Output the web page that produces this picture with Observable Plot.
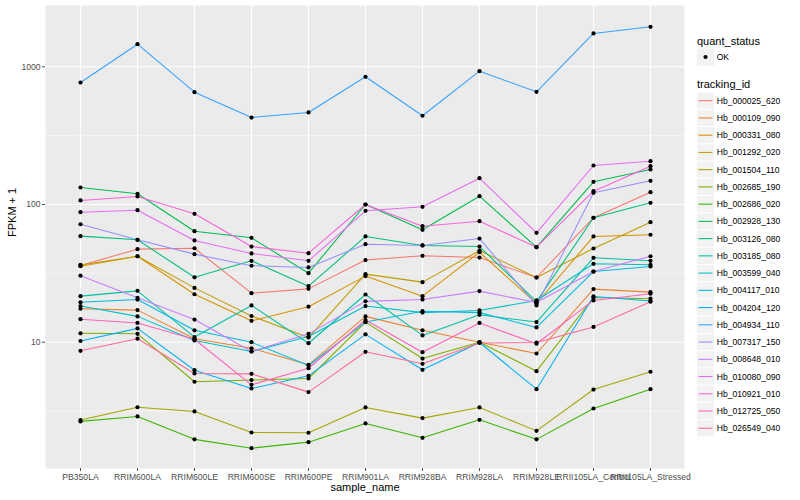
<!DOCTYPE html>
<html><head><meta charset="utf-8">
<script src="https://cdn.jsdelivr.net/npm/d3@7"></script>
<script src="https://cdn.jsdelivr.net/npm/@observablehq/plot@0.6"></script>
<style>
body{margin:0;background:#fff;font-family:"Liberation Sans",Arial,sans-serif;}
#wrap{position:relative;width:800px;height:500px;overflow:hidden;}
#chart{position:absolute;left:0;top:0;}
#legend{position:absolute;left:690px;top:0;}
</style></head><body>
<div id="wrap"><div id="chart"></div><svg id="legend" width="110" height="500"></svg></div>
<script>
const samples = ["PB350LA","RRIM600LA","RRIM600LE","RRIM600SE","RRIM600PE","RRIM901LA","RRIM928BA","RRIM928LA","RRIM928LE","RRII105LA_Control","RRII105LA_Stressed"];
const trackingIds = ["Hb_000025_620","Hb_000109_090","Hb_000331_080","Hb_001292_020","Hb_001504_110","Hb_002685_190","Hb_002686_020","Hb_002928_130","Hb_003126_080","Hb_003185_080","Hb_003599_040","Hb_004117_010","Hb_004204_120","Hb_004934_110","Hb_007317_150","Hb_008648_010","Hb_010080_090","Hb_010921_010","Hb_012725_050","Hb_026549_040"];
const quantStatus = ["OK"];
const yBreaks = [10, 100, 1000];

// FPKM + 1, one array per tracking_id, in sample order
const hb_000025_620 = [36.1, 47.4, 48.1, 22.7, 24.4, 39.5, 42.4, 41.2, 29.5, 80.1, 122.9];
const hb_000109_090 = [17.5, 17.1, 10.6, 9.04, 6.85, 15.4, 12.2, 10.0, 8.28, 24.3, 23.1];
const hb_000331_080 = [35.6, 42.1, 22.3, 14.3, 18.1, 30.2, 21.6, 45.0, 19.1, 58.6, 60.3];
const hb_001292_020 = [36.4, 42.1, 24.8, 15.5, 10.8, 31.2, 27.3, 46.3, 29.5, 47.9, 74.4];
const hb_001504_110 = [2.72, 3.37, 3.14, 2.21, 2.20, 3.36, 2.81, 3.36, 2.27, 4.53, 6.10];
const hb_002685_190 = [11.6, 11.5, 5.16, 5.31, 5.45, 14.0, 7.61, 10.0, 6.16, 21.1, 20.7];
const hb_002686_020 = [2.66, 2.89, 1.97, 1.70, 1.88, 2.57, 2.02, 2.73, 1.97, 3.30, 4.56];
const hb_002928_130 = [132.9, 119.6, 64.0, 57.3, 31.7, 100, 65.5, 114.9, 49.0, 146.2, 179.6];
const hb_003126_080 = [58.9, 55.4, 29.6, 39.0, 25.5, 58.6, 50.4, 49.5, 19.7, 80.1, 102.9];
const hb_003185_080 = [21.6, 23.6, 10.9, 18.5, 9.83, 22.2, 11.2, 15.8, 14.0, 41.0, 39.0];
const hb_003599_040 = [18.3, 15.4, 10.3, 8.56, 11.0, 18.3, 16.4, 17.0, 20.1, 37.1, 36.5];
const hb_004117_010 = [19.5, 20.4, 12.2, 10.0, 6.77, 14.0, 16.8, 16.4, 12.8, 32.6, 35.5];
const hb_004204_120 = [10.2, 12.6, 6.26, 4.61, 5.70, 11.4, 6.30, 9.95, 4.56, 21.5, 19.9];
const hb_004934_110 = [769, 1459, 654, 428, 466, 846, 441, 929, 658, 1746, 1951];
const hb_007317_150 = [71.9, 55.4, 43.6, 35.9, 34.9, 51.5, 50.4, 56.6, 18.5, 121.6, 148.6];
const hb_008648_010 = [30.4, 21.0, 14.6, 8.56, 11.5, 19.8, 20.4, 23.5, 19.4, 32.6, 42.1];
const hb_010080_090 = [87.9, 90.9, 54.8, 44.1, 39.0, 90.0, 96.2, 155.2, 62.3, 192, 206.3];
const hb_010921_010 = [107, 114.3, 85.6, 49.5, 44.3, 100, 69.6, 75.6, 49.0, 124.9, 189.7];
const hb_012725_050 = [14.7, 13.8, 10.5, 4.90, 6.47, 14.5, 8.46, 13.8, 9.74, 20.1, 22.5];
const hb_026549_040 = [8.66, 10.6, 5.93, 5.89, 4.34, 8.52, 6.97, 9.87, 9.95, 12.9, 19.7];

const seriesValues = [hb_000025_620, hb_000109_090, hb_000331_080, hb_001292_020, hb_001504_110, hb_002685_190, hb_002686_020, hb_002928_130, hb_003126_080, hb_003185_080, hb_003599_040, hb_004117_010, hb_004204_120, hb_004934_110, hb_007317_150, hb_008648_010, hb_010080_090, hb_010921_010, hb_012725_050, hb_026549_040];

// ggplot2 default hue palette for 20 levels
const palette = ["#F8766D","#EA8331","#D89000","#C09B00","#A3A500","#7CAE00","#39B600","#00BB4E","#00BF7D","#00C1A3","#00BFC4","#00BAE0","#00B0F6","#35A2FF","#9590FF","#C77CFF","#E76BF3","#FA62DB","#FF62BC","#FF6C91"];

const rows = [];
seriesValues.forEach((vals, i) => vals.forEach((v, j) => rows.push({sample: samples[j], id: trackingIds[i], status: quantStatus[0], value: v})));

const yDomain = [1.21, 2787];
const minorBreaks = [Math.sqrt(10), Math.pow(10, 1.5), Math.pow(10, 2.5)];

const chart = Plot.plot({
  width: 800, height: 500,
  marginLeft: 45, marginRight: 116, marginTop: 5, marginBottom: 32,
  style: {fontFamily: "Liberation Sans, Arial, sans-serif", fontSize: "8.6px", background: "white", color: "#333333"},
  x: {type: "point", domain: samples, padding: 0.6, label: null},
  y: {type: "log", domain: yDomain, label: null},
  color: {domain: trackingIds, range: palette},
  marks: [
    Plot.frame({fill: "#EBEBEB", stroke: "none"}),
    Plot.ruleY(minorBreaks, {stroke: "white", strokeWidth: 0.55}),
    Plot.ruleY(yBreaks, {stroke: "white", strokeWidth: 1.1}),
    Plot.ruleX(samples, {stroke: "white", strokeWidth: 1.1}),
    Plot.line(rows, {x: "sample", y: "value", z: "id", stroke: "id", strokeWidth: 1.07}),
    Plot.dot(rows, {x: "sample", y: "value", r: 2.1, fill: "black", stroke: "none"}),
    Plot.axisY({ticks: yBreaks, tickFormat: d => String(d), tickSize: 3, tickPadding: 2, color: "#4D4D4D", label: null}),
    Plot.axisX({tickSize: 3, tickPadding: 2, color: "#4D4D4D", label: null}),
    Plot.text(["FPKM + 1"], {frameAnchor: "left", dx: -33, rotate: -90, fontSize: 11, fill: "black"}),
    Plot.text(["sample_name"], {frameAnchor: "bottom", dy: 22, fontSize: 11, fill: "black"})
  ]
});
document.getElementById("chart").appendChild(chart);

// legend (ggplot-style)
const lg = d3.select("#legend").style("font-family", "Liberation Sans, Arial, sans-serif");
const x0 = 7, keyW = 17, keyH = 17.24, labX = 26.7;
lg.append("text").attr("x", x0).attr("y", 40.7).attr("dy", "0.35em").attr("font-size", 11).attr("fill", "black").text("quant_status");
quantStatus.forEach((s, i) => {
  const cy = 57 + i * keyH;
  lg.append("rect").attr("x", x0).attr("y", cy - keyH / 2).attr("width", keyW).attr("height", keyH).attr("fill", "#F2F2F2");
  lg.append("circle").attr("cx", x0 + keyW / 2).attr("cy", cy).attr("r", 2.1).attr("fill", "black");
  lg.append("text").attr("x", labX).attr("y", cy).attr("dy", "0.35em").attr("font-size", 8.6).attr("fill", "black").text(s);
});
lg.append("text").attr("x", x0).attr("y", 84.3).attr("dy", "0.35em").attr("font-size", 11).attr("fill", "black").text("tracking_id");
trackingIds.forEach((id, i) => {
  const cy = 100.7 + i * keyH;
  lg.append("rect").attr("x", x0).attr("y", cy - keyH / 2 + 0.5).attr("width", keyW).attr("height", keyH - 1).attr("fill", "#F2F2F2");
  lg.append("line").attr("x1", x0 + 1.5).attr("x2", x0 + keyW - 1.5).attr("y1", cy).attr("y2", cy).attr("stroke", palette[i]).attr("stroke-width", 1.07);
  lg.append("text").attr("x", labX).attr("y", cy).attr("dy", "0.35em").attr("font-size", 8.6).attr("fill", "black").text(id);
});
</script>
</body></html>
